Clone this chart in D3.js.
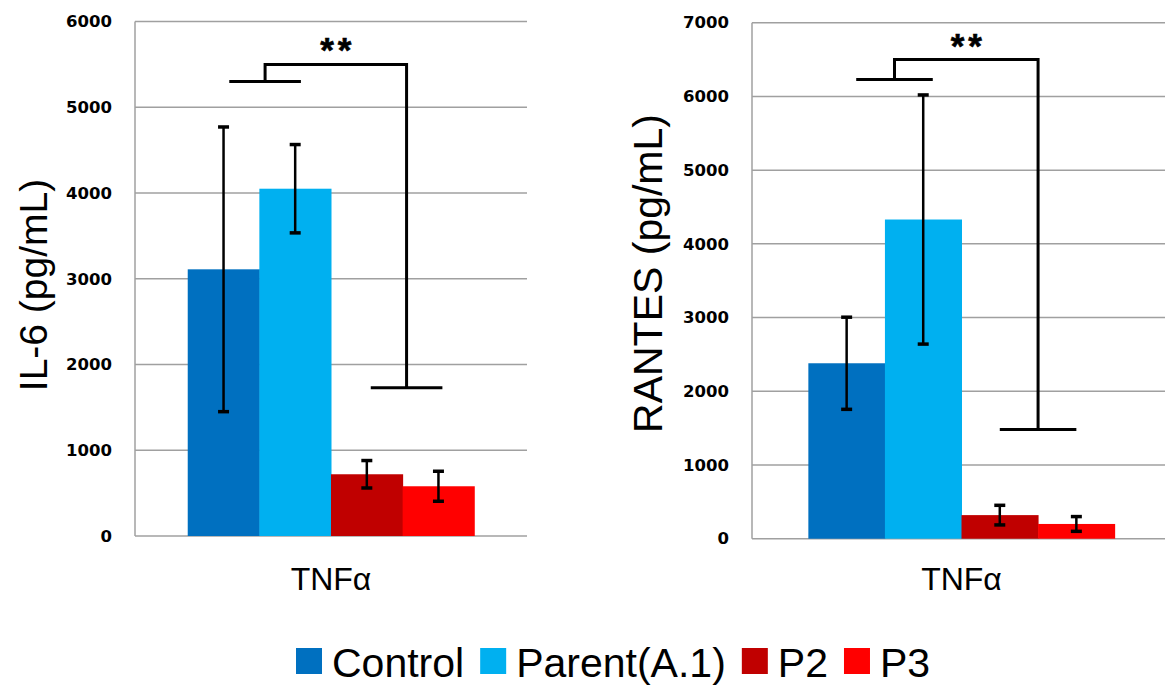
<!DOCTYPE html>
<html>
<head>
<meta charset="utf-8">
<script src="https://cdn.jsdelivr.net/npm/d3@7"></script>
<style>
  html, body { margin: 0; padding: 0; background: #fff; }
  svg { display: block; }
</style>
</head>
<body>
<svg id="chart" width="1165" height="686"></svg>
<script>
// ---------- data ----------
const categories = ["TNFα"];
const series = ["Control", "Parent(A.1)", "P2", "P3"];
const colors = ["#0070C0", "#00B0F0", "#C00000", "#FF0000"];

const il6Values = [3110, 4050, 720, 580];
const il6Errors = [1660, 515, 160, 175];
const il6Ticks = [0, 1000, 2000, 3000, 4000, 5000, 6000];
const il6Bracket = [5300, 5500, 1730]; // short bar, top, bottom bar

const rantesValues = [2380, 4330, 320, 200];
const rantesErrors = [625, 1690, 133, 100];
const rantesTicks = [0, 1000, 2000, 3000, 4000, 5000, 6000, 7000];
const rantesBracket = [6230, 6500, 1480];

const yTitles = ["IL-6 (pg/mL)", "RANTES (pg/mL)"];
const sigLabel = "**";

// ---------- drawing ----------
const svg = d3.select("#chart");
const FONT = "'Liberation Sans', Arial, sans-serif";

const panels = [
  { values: il6Values, errors: il6Errors, ticks: il6Ticks, bracket: il6Bracket,
    title: yTitles[0], x0: 135, x1: 527, yBottom: 536, yTop: 21.5,
    titleX: 47, titleY: 285, titleSize: 39, brFrac: [0.58, 0.555] },
  { values: rantesValues, errors: rantesErrors, ticks: rantesTicks, bracket: rantesBracket,
    title: yTitles[1], x0: 752, x1: 1171, yBottom: 538.7, yTop: 22.7,
    titleX: 662, titleY: 273.5, titleSize: 41, brFrac: [0.625, 0.5] }
];

panels.forEach(p => {
  const g = svg.append("g");
  const yMax = d3.max(p.ticks);
  const y = d3.scaleLinear().domain([0, yMax]).range([p.yBottom, p.yTop]);
  const xCat = d3.scaleBand().domain(categories).range([p.x0, p.x1])
    .paddingInner(0).paddingOuter(0.184);
  const xSer = d3.scaleBand().domain(series)
    .range([xCat(categories[0]), xCat(categories[0]) + xCat.bandwidth()]).padding(0);
  const bw = xSer.bandwidth();

  // gridlines
  g.append("g").selectAll("line").data(p.ticks).join("line")
    .attr("x1", p.x0).attr("x2", p.x1)
    .attr("y1", d => y(d)).attr("y2", d => y(d))
    .attr("stroke", "#a0a0a0").attr("stroke-width", 1.5);

  // y axis line
  g.append("line").attr("x1", p.x0).attr("x2", p.x0)
    .attr("y1", y(0)).attr("y2", y(yMax))
    .attr("stroke", "#a0a0a0").attr("stroke-width", 1.5);

  // tick labels via d3 axis
  const axis = d3.axisLeft(y).tickValues(p.ticks).tickSize(0).tickPadding(23)
    .tickFormat(d3.format("d"));
  const ax = g.append("g").attr("transform", `translate(${p.x0},0)`).call(axis);
  ax.select(".domain").remove();
  ax.selectAll("text")
    .attr("font-family", "'DejaVu Sans', sans-serif")
    .attr("font-weight", "bold")
    .attr("font-size", 16.5)
    .attr("fill", "#000");

  // bars
  g.append("g").selectAll("rect").data(series).join("rect")
    .attr("x", d => xSer(d))
    .attr("width", bw + 0.5)
    .attr("y", (d, i) => y(p.values[i]))
    .attr("height", (d, i) => y(0) - y(p.values[i]))
    .attr("fill", (d, i) => colors[i]);

  // error bars
  const eb = g.append("g").attr("stroke", "#000");
  series.forEach((s, i) => {
    const cx = xSer(s) + bw / 2;
    const hi = y(p.values[i] + p.errors[i]);
    const lo = y(p.values[i] - p.errors[i]);
    eb.append("line").attr("x1", cx).attr("x2", cx).attr("y1", hi).attr("y2", lo)
      .attr("stroke-width", 2.5);
    [hi, lo].forEach(yy => {
      eb.append("line").attr("x1", cx - 5.5).attr("x2", cx + 5.5)
        .attr("y1", yy).attr("y2", yy).attr("stroke-width", 3.5);
    });
  });

  // significance bracket
  const br = g.append("g").attr("stroke", "#000").attr("stroke-width", 3)
    .attr("fill", "none");
  const aL = xSer(series[0]) + p.brFrac[0] * bw;
  const aR = xSer(series[1]) + p.brFrac[0] * bw;
  const bL = xSer(series[2]) + p.brFrac[1] * bw;
  const bR = xSer(series[3]) + p.brFrac[1] * bw;
  const aMid = (aL + aR) / 2, bMid = (bL + bR) / 2;
  const yS = y(p.bracket[0]), yT = y(p.bracket[1]), yB = y(p.bracket[2]);
  br.append("line").attr("x1", aL).attr("x2", aR).attr("y1", yS).attr("y2", yS);
  br.append("line").attr("x1", bL).attr("x2", bR).attr("y1", yB).attr("y2", yB);
  br.append("path").attr("d", `M${aMid},${yS}V${yT}H${bMid}V${yB}`)
    .attr("stroke-linejoin", "miter");

  g.append("text")
    .attr("x", (aMid + bMid) / 2 + 2)
    .attr("y", yT - 2)
    .attr("text-anchor", "middle")
    .attr("font-family", FONT)
    .attr("font-weight", "bold")
    .attr("font-size", 35)
    .attr("letter-spacing", 4)
    .attr("stroke", "#000")
    .attr("stroke-width", 0.6)
    .text(sigLabel);

  // x category label
  g.append("text")
    .attr("x", xCat(categories[0]) + xCat.bandwidth() / 2)
    .attr("y", 590)
    .attr("text-anchor", "middle")
    .attr("font-family", FONT)
    .attr("font-size", 32)
    .text(categories[0]);

  // y title
  g.append("text")
    .attr("transform", `translate(${p.titleX},${p.titleY}) rotate(-90)`)
    .attr("text-anchor", "middle")
    .attr("font-family", FONT)
    .attr("font-size", p.titleSize)
    .text(p.title);
});

// legend
const lg = svg.append("g");
let lx = 296;
series.forEach((s, i) => {
  lg.append("rect").attr("x", lx).attr("y", 648).attr("width", 26).attr("height", 26)
    .attr("fill", colors[i]);
  const t = lg.append("text").attr("x", lx + 36).attr("y", 677)
    .attr("font-family", FONT).attr("font-size", 41).text(s);
  lx += 36 + t.node().getComputedTextLength() + 16;
});
</script>
</body>
</html>
